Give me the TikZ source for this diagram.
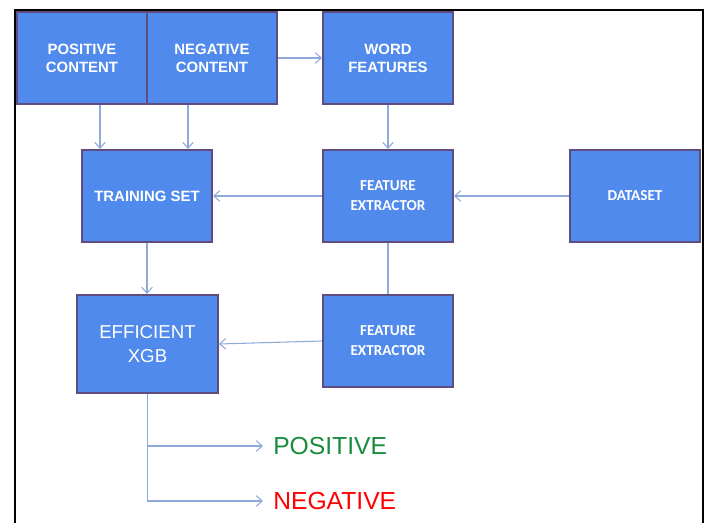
\documentclass[tikz,border=0pt]{standalone}
\usepackage{fontspec}
\setmainfont{Liberation Sans}
\newfontfamily\calibri{Carlito}
\usepackage{tikz}
\usetikzlibrary{arrows.meta}
\definecolor{boxfill}{RGB}{80,138,236}
\definecolor{boxedge}{RGB}{96,76,126}
\definecolor{arrowcol}{RGB}{142,170,219}
\definecolor{posgreen}{RGB}{24,140,60}
\definecolor{negred}{RGB}{255,0,0}
\tikzstyle{bloque}=[draw=boxedge, fill=boxfill, line width=1.5pt, text=white,
  align=center, minimum width=97.5pt, minimum height=69pt,
  font=\bfseries\fontsize{11.2}{13.4}\selectfont]
\tikzstyle{extractor} = [bloque, font=\calibri\bfseries\fontsize{11.4}{15}\selectfont]
\tikzstyle{clasif} = [bloque, minimum width=105.75pt, minimum height=73.5pt,
  font=\fontsize{14}{18}\selectfont]
\tikzstyle{salida} = [anchor=west, inner xsep=7.5pt, inner ysep=0pt,
  font=\fontsize{18.5}{21}\selectfont]
\tikzstyle{line} = [draw, line width=0.8pt, color=arrowcol,
  -{Straight Barb[length=4.5pt,width=8pt]}]
\tikzstyle{linepart} = [draw, line width=0.8pt, color=arrowcol]
\newcommand{\bloque}[3]{node (#1) [#3] {#2}}

\begin{document}
\begin{tikzpicture}[x=0.75pt,y=-0.75pt]
  \useasboundingbox (0,0) rectangle (709,523);
  % Frame round the page
  \draw[line width=1.5pt] (15,523) -- (15,10) -- (703,10) -- (703,523);

  % Draw diagram elements
\path (82,58) \bloque{pos}{POSITIVE\\CONTENT}{bloque};
\path (212,58) \bloque{neg}{NEGATIVE\\CONTENT}{bloque};
\path (388,58) \bloque{word}{WORD\\FEATURES}{bloque};

\path (147,196) \bloque{train}{TRAINING SET}{bloque};
\path (388,196) \bloque{fe1}{FEATURE\\EXTRACTOR}{extractor};
\path (635,196) \bloque{data}{DATASET}{extractor};

\path (147.5,344) \bloque{xgb}{EFFICIENT\\XGB}{clasif};
\path (388,341) \bloque{fe2}{FEATURE\\EXTRACTOR}{extractor};

\node (poslbl) [salida, text=posgreen] at (263,446) {POSITIVE};
\node (neglbl) [salida, text=negred] at (263,501) {NEGATIVE};

  % Draw arrows between elements
\path [line] ([xshift=13.5pt]pos.south) -- ([xshift=13.5pt]pos.south |- train.north);
\path [line] ([xshift=-18pt]neg.south) -- ([xshift=-18pt]neg.south |- train.north);
\path [line] (neg.east) -- (word.west);
\path [line] (word.south) -- (fe1.north);
\path [line] (fe1.west) -- (train.east);
\path [line] (data.west) -- (fe1.east);
\path [linepart] (fe1.south) -- (fe2.north);
\path [line] (train.south) -- (train.south |- xgb.north);
\path [line] (fe2.west) -- (xgb.east);
\path [line] (xgb.south) |- (poslbl.west);
\path [line] (xgb.south) |- (neglbl.west);
\end{tikzpicture}
\end{document}
